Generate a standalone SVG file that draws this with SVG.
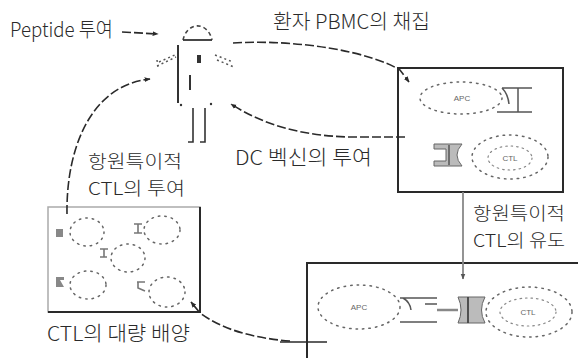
<svg xmlns="http://www.w3.org/2000/svg" width="578" height="358" viewBox="0 0 578 358">
  <style>
    .lbl { font-family: "Noto Sans CJK KR", "Liberation Sans", sans-serif; font-size: 20px; font-weight: 300; fill: #2a2a2a; }
    .lbl2 { font-family: "Noto Sans CJK KR", "Liberation Sans", sans-serif; font-size: 18px; font-weight: 300; fill: #2a2a2a; }
    .tiny { font-family: "Liberation Sans", sans-serif; font-size: 8px; fill: #666; }
    .conn { fill: none; stroke: #2a2a2a; stroke-width: 1.6; stroke-dasharray: 9 3; }
    .box { fill: #fff; stroke: #2a2a2a; stroke-width: 2; }
    .dots { fill: none; stroke: #666; stroke-width: 1.5; stroke-dasharray: 1.5 5; stroke-linecap: round; }
    .dots2 { fill: none; stroke: #888; stroke-width: 1.2; stroke-dasharray: 1.5 4; stroke-linecap: round; }
    .ink { fill: none; stroke: #333; stroke-width: 1.6; }
    .recep { fill: none; stroke: #555; stroke-width: 1.5; }
    .tcr { fill: #bbb; stroke: #666; stroke-width: 1; }
    .mark { fill: #888; }
  </style>
  <defs>
    <marker id="ah" viewBox="0 0 10 10" refX="9" refY="5" markerWidth="6" markerHeight="6" orient="auto" markerUnits="userSpaceOnUse">
      <path d="M0,1 L10,5 L0,9 Z" fill="#2a2a2a"/>
    </marker>
    <marker id="ahg" viewBox="0 0 10 10" refX="9" refY="5" markerWidth="6" markerHeight="6" orient="auto" markerUnits="userSpaceOnUse">
      <path d="M0,1 L10,5 L0,9 Z" fill="#555"/>
    </marker>
  </defs>

  <!-- labels -->
  <g id="labels">
    <text class="lbl" x="10" y="37" textLength="103" lengthAdjust="spacingAndGlyphs">Peptide 투여</text>
    <text class="lbl" x="273" y="29" textLength="157" lengthAdjust="spacingAndGlyphs">환자 PBMC의 채집</text>
    <text class="lbl" x="235" y="165" textLength="137" lengthAdjust="spacingAndGlyphs">DC 벡신의 투여</text>
    <text class="lbl2" x="88" y="168" textLength="94" lengthAdjust="spacingAndGlyphs">항원특이적</text>
    <text class="lbl2" x="88" y="195" textLength="97" lengthAdjust="spacingAndGlyphs">CTL의 투여</text>
    <text class="lbl" x="47" y="341" textLength="143" lengthAdjust="spacingAndGlyphs">CTL의 대량 배양</text>
    <text class="lbl2" x="473" y="220" textLength="92" lengthAdjust="spacingAndGlyphs">항원특이적</text>
    <text class="lbl2" x="473" y="247" textLength="92" lengthAdjust="spacingAndGlyphs">CTL의 유도</text>
  </g>

  <!-- patient figure -->
  <g id="patient">
    <path d="M183,40 A15,19 0 0 1 212,40" fill="none" stroke="#444" stroke-width="1.6" stroke-dasharray="4 3"/>
    <line x1="183" y1="40" x2="212" y2="40" stroke="#333" stroke-width="1.8"/>
    <line x1="178" y1="45" x2="178" y2="103" stroke="#333" stroke-width="2"/>
    <circle cx="181" cy="105" r="1.2" fill="#333"/>
    <circle cx="211" cy="104" r="1.2" fill="#333"/>
    <!-- arms -->
    <path d="M157,66 L176,57 M159,62 L177,54 M157,60 L158,67" fill="none" stroke="#555" stroke-width="1.5" stroke-dasharray="2 3"/>
    <path d="M215,55 L233,62 M217,60 L234,67" fill="none" stroke="#555" stroke-width="1.5" stroke-dasharray="2 3"/>
    <rect x="197" y="55" width="4" height="8" fill="#333"/>
    <line x1="190" y1="75" x2="190" y2="90" stroke="#333" stroke-width="2"/>
    <!-- legs -->
    <path d="M193,108 L193,142 L188,142" class="ink" stroke-width="2"/>
    <path d="M205,108 L205,142 L200,142" class="ink" stroke-width="2"/>
  </g>

  <!-- PBMC / APC box -->
  <g id="apc-box">
    <rect class="box" x="398" y="68" width="165" height="124"/>
    <ellipse class="dots" cx="461" cy="98" rx="41" ry="16"/>
    <text class="tiny" x="462" y="101" text-anchor="middle">APC</text>
    <path class="recep" d="M502,88 L532,88 M518,88 L518,112 M497,112 L532,112 M502,88 Q508,94 509,104"/>
    <path class="tcr" d="M434,144 L462,144 Q452,155 462,166 L434,166 L434,161 L446,161 L446,149 L434,149 Z"/>
    <line x1="449" y1="145" x2="449" y2="165" stroke="#555" stroke-width="1.5"/>
    <ellipse class="dots" cx="510" cy="157" rx="38" ry="22"/>
    <ellipse class="dots2" cx="510" cy="158" rx="22" ry="12"/>
    <text class="tiny" x="510" y="161" text-anchor="middle">CTL</text>
  </g>

  <!-- CTL culture box -->
  <g id="culture-box">
    <rect x="48" y="207" width="152" height="105" fill="#fff" stroke="#aaa" stroke-width="1.5"/>
    <path d="M200,207 L200,312 L48,312" fill="none" stroke="#2a2a2a" stroke-width="2"/>
    <ellipse class="dots" cx="87" cy="232" rx="17" ry="14"/>
    <rect class="mark" x="56" y="229" width="7" height="8"/>
    <ellipse class="dots" cx="162" cy="230" rx="18" ry="14"/>
    <path d="M134,224 L142,224 M138,224 L138,233 M134,233 L142,233" stroke="#777" stroke-width="1.6" fill="none"/>
    <ellipse class="dots" cx="128" cy="258" rx="17" ry="14"/>
    <path d="M100,249 L108,249 M104,249 L104,257 M100,257 L107,257" stroke="#777" stroke-width="1.6" fill="none"/>
    <ellipse class="dots" cx="88" cy="285" rx="18" ry="14"/>
    <path class="mark" d="M56,277 L64,277 L64,280 L60,280 L64,287 L56,287 Z"/>
    <ellipse class="dots" cx="167" cy="292" rx="18" ry="15"/>
    <path d="M137,282 L145,282 M138,282 L138,288 L145,291" stroke="#777" stroke-width="1.6" fill="none"/>
  </g>

  <!-- CTL induction box -->
  <g id="induction-box">
    <path d="M307,358 L307,263 L578,263" fill="none" stroke="#2a2a2a" stroke-width="2"/>
    <ellipse class="dots" cx="359" cy="307" rx="41" ry="22"/>
    <text class="tiny" x="359" y="310" text-anchor="middle">APC</text>
    <path class="recep" d="M400,298 L437,298 M425,304 L437,304 M400,322 L437,322 M403,298 Q410,302 411,310"/>
    <line x1="437" y1="310" x2="458" y2="310" stroke="#888" stroke-width="2.5"/>
    <path class="tcr" d="M458,297 L485,297 Q478,310 485,323 L458,323 Q464,310 458,297 Z"/>
    <line x1="468" y1="297" x2="468" y2="323" stroke="#444" stroke-width="1.8"/>
    <ellipse class="dots" cx="529" cy="312" rx="43" ry="25"/>
    <ellipse class="dots2" cx="528" cy="312" rx="28" ry="14"/>
    <text class="tiny" x="528" y="315" text-anchor="middle">CTL</text>
  </g>

  <!-- connectors -->
  <g id="connectors">
    <path class="conn" d="M122,32 L158,34" marker-end="url(#ah)"/>
    <path class="conn" d="M233,43 C300,39 370,52 400,70 L409,82" marker-end="url(#ah)"/>
    <path class="conn" d="M405,137 L350,137 C305,136 265,126 231,104" marker-end="url(#ah)"/>
    <path class="conn" d="M67,214 C66,150 90,85 150,79" marker-end="url(#ah)"/>
    <path class="conn" d="M290,341 C250,338 220,328 200,313 L191,302" marker-end="url(#ah)"/>
    <line x1="280" y1="342" x2="327" y2="342" stroke="#2a2a2a" stroke-width="1.6"/>
    <path d="M463,192 L463,279" fill="none" stroke="#888" stroke-width="1.8" marker-end="url(#ahg)"/>
  </g>
</svg>
